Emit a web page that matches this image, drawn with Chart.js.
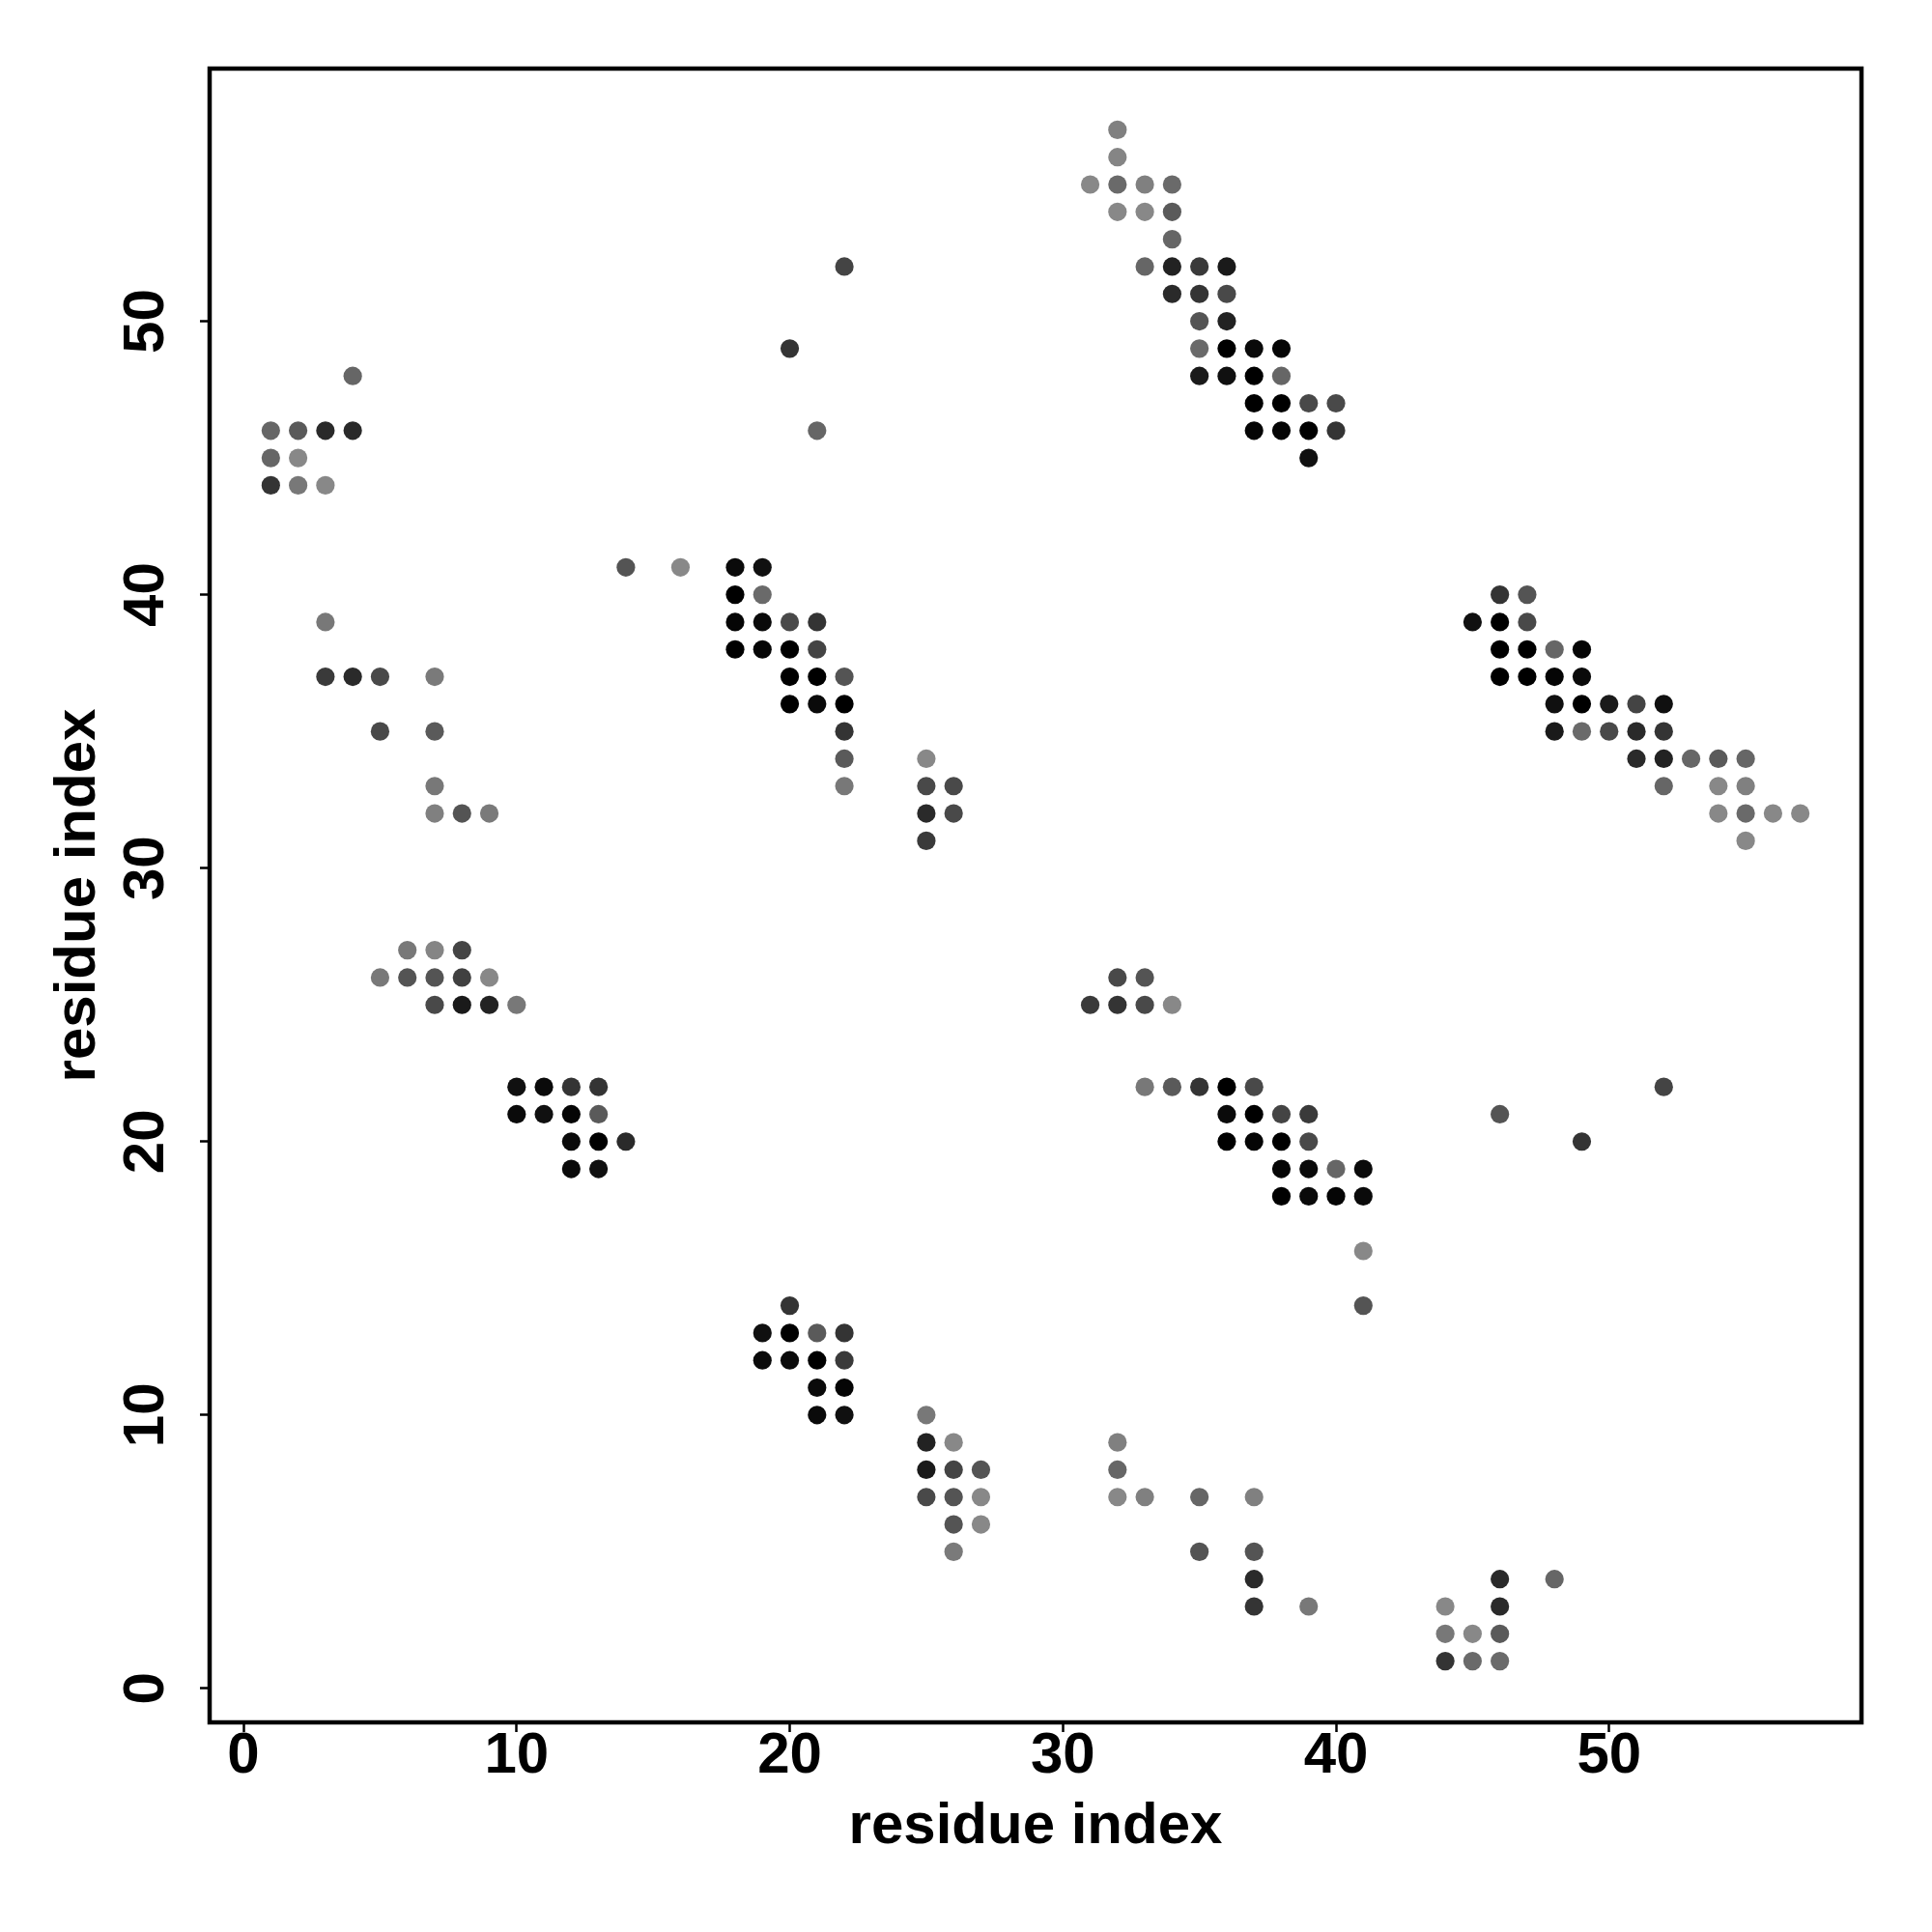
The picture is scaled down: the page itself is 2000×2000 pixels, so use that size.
<!DOCTYPE html>
<html><head><meta charset="utf-8">
<script src="https://cdn.jsdelivr.net/npm/chart.js@4"></script>
<style>html,body{margin:0;padding:0;background:#fff}canvas{display:block}</style>
</head><body>
<canvas id="c" width="2000" height="2000"></canvas>
<script>
// residue i (x), residue j (y), contact strength (0 = weakest/light grey, 1 = strongest/black)
const resX = [
  4,1,2,3,4,1,2,1,2,3,
  3,3,4,5,7,5,7,7,7,8,9,
  6,7,8,5,6,7,8,9,7,8,9,10,
  10,11,12,13,10,11,12,13,12,13,14,12,13,
  22,20,21,14,16,18,19,18,19,18,19,20,21,18,19,20,21,20,21,22,20,21,22,22,22,22,25,25,26,25,26,25,
  20,19,20,21,22,19,20,21,22,21,22,21,22,25,25,26,25,26,27,25,26,27,26,27,26,
  32,32,31,32,33,34,32,33,34,34,33,34,35,36,34,35,36,35,36,35,36,37,38,35,36,37,38,37,38,39,40,37,38,39,40,39,
  32,33,31,32,33,34,33,34,35,36,37,36,37,38,39,36,37,38,39,38,39,40,41,38,39,40,41,41,41,
  32,32,32,33,35,37,35,37,37,37,39,
  46,48,44,46,44,45,46,44,45,46,
  46,47,45,46,47,46,47,48,49,46,47,48,49,48,49,50,51,52,48,49,50,51,52,51,52,53,54,55,52,54,55,54,55,56,57,55,
  46,49,52
];
const resY = [
  48,46,46,46,46,45,45,44,44,44,
  39,37,37,37,37,35,35,33,32,32,32,
  27,27,27,26,26,26,26,26,25,25,25,25,
  22,22,22,22,21,21,21,21,20,20,20,19,19,
  52,49,46,41,41,41,41,40,40,39,39,39,39,38,38,38,38,37,37,37,36,36,36,35,34,33,34,33,33,32,32,31,
  14,13,13,13,13,12,12,12,12,11,11,10,10,10,9,9,8,8,8,7,7,7,6,6,5,
  57,56,55,55,55,55,54,54,54,53,52,52,52,52,51,51,51,50,50,49,49,49,49,48,48,48,48,47,47,47,47,46,46,46,46,45,
  26,26,25,25,25,25,22,22,22,22,22,21,21,21,21,20,20,20,20,19,19,19,19,18,18,18,18,16,14,
  9,8,7,7,7,7,5,5,4,3,3,
  4,4,3,3,2,2,2,1,1,1,
  40,40,39,39,39,38,38,38,38,37,37,37,37,36,36,36,36,36,35,35,35,35,35,34,34,34,34,34,33,33,33,32,32,32,32,31,
  21,20,22
];
const strength = [
  .25,.25,.34,.69,.69,.25,0,.62,.12,0,
  .12,.57,.69,.46,.10,.46,.34,.12,.06,.38,.10,
  .12,.02,.5,.12,.38,.38,.53,0,.46,.81,.75,.12,
  .88,.93,.62,.62,.93,.88,.96,.34,.93,1,.69,.93,.88,
  .5,.62,.25,.38,0,.93,.88,1,.22,.96,.93,.46,.62,1,.96,1,.5,1,1,.38,1,.93,1,.62,.34,.12,0,.46,.46,.69,.46,.57,
  .62,.88,1,.34,.62,.93,.93,1,.57,.93,.96,.93,.88,.12,.75,0,.81,.5,.38,.46,.38,0,.38,0,.1,
  .06,.02,0,.22,.06,.22,0,0,.34,.25,.25,.75,.57,.81,.69,.62,.46,.38,.75,.22,1,.93,.96,.81,.88,1,.25,1,1,.46,.46,.96,.96,1,.62,.88,
  .46,.38,.57,.62,.46,0,.12,.34,.62,1,.46,.93,1,.5,.57,1,.96,1,.46,.96,.93,.25,.93,1,.93,.96,.93,0,.38,
  .06,.25,0,.06,.25,.06,.38,.38,.69,.62,.12,
  .69,.25,0,.69,.12,0,.34,.62,.22,.22,
  .62,.38,.88,1,.46,1,1,.25,.96,1,1,.96,.93,.88,1,.81,.5,.88,.81,.22,.46,.69,.62,.69,.75,.25,.34,.25,.25,0,.06,0,.22,0,0,0,
  .38,.62,.5
];
const xTicks = [0, 10, 20, 30, 40, 50];
const yTicks = [0, 10, 20, 30, 40, 50];
const xTitle = 'residue index';
const yTitle = 'residue index';
const axisMin = -1.24, axisMax = 59.24;

function grey(s) { const g = Math.round(136 * (1 - s)); return 'rgb(' + g + ',' + g + ',' + g + ')'; }
const points = resX.map((x, i) => ({ x: x, y: resY[i] }));
const colors = strength.map(grey);

const FONT = "'Liberation Sans', Arial, Helvetica, sans-serif";
Chart.defaults.font.family = FONT;
Chart.defaults.font.weight = 'bold';
Chart.defaults.color = '#000';

const frame = {
  id: 'frame',
  afterDatasetsDraw(chart) {
    const { ctx, chartArea: a } = chart;
    ctx.save();
    ctx.lineWidth = 4.5;
    ctx.strokeStyle = '#000';
    ctx.strokeRect(a.left, a.top, a.right - a.left, a.bottom - a.top);
    ctx.restore();
  }
};

const gridOpts = { display: true, drawOnChartArea: false, drawTicks: true, tickLength: 10, tickWidth: 2.5, tickColor: '#000' };

new Chart(document.getElementById('c'), {
  type: 'scatter',
  data: { datasets: [{
    data: points,
    pointRadius: 9.6, pointHoverRadius: 9.6, pointBorderWidth: 0,
    pointBackgroundColor: colors, pointBorderColor: colors
  }] },
  options: {
    responsive: false, animation: false, devicePixelRatio: 1, events: [],
    layout: { padding: { left: 0, top: 71, right: 73, bottom: 0 } },
    plugins: { legend: { display: false }, tooltip: { enabled: false } },
    scales: {
      x: {
        type: 'linear', position: 'bottom', min: axisMin, max: axisMax,
        afterBuildTicks: s => { s.ticks = xTicks.map(v => ({ value: v })); },
        afterFit: s => { s.height = 217; },
        ticks: { font: { size: 60, weight: 'bold', lineHeight: 1 }, padding: -5, color: '#000', maxRotation: 0, autoSkip: false, callback: v => String(v) },
        grid: gridOpts,
        border: { display: false },
        title: { display: true, text: xTitle, color: '#000', font: { size: 60, weight: 'bold' }, padding: { top: 0, bottom: 73 } }
      },
      y: {
        type: 'linear', position: 'left', min: axisMin, max: axisMax,
        afterBuildTicks: s => { s.ticks = yTicks.map(v => ({ value: v })); },
        afterFit: s => { s.width = 217; },
        ticks: { font: { size: 60, weight: 'bold', lineHeight: 1 }, padding: 21.6, color: '#000', minRotation: 90, maxRotation: 90, crossAlign: 'center', autoSkip: false, callback: v => String(v) },
        grid: gridOpts,
        border: { display: false },
        title: { display: true, text: yTitle, color: '#000', font: { size: 60, weight: 'bold' }, padding: { top: 45, bottom: 0 } }
      }
    }
  },
  plugins: [frame]
});
</script>
</body></html>
